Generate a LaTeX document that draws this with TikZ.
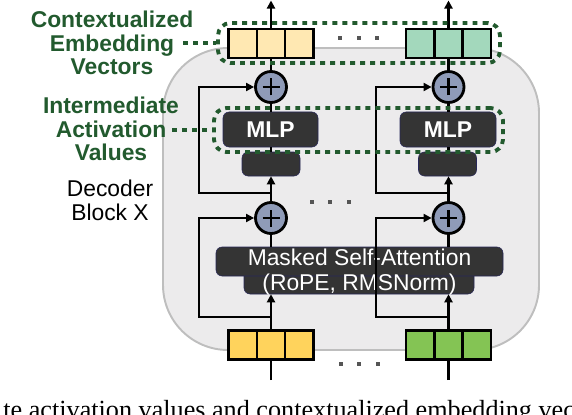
\documentclass[tikz,border=0pt]{standalone}
\usepackage{fontspec}
\setmainfont{Liberation Serif}
\setsansfont{Liberation Sans}
\usetikzlibrary{arrows.meta,positioning}

\definecolor{ctxgreen}{RGB}{34,90,46}
\definecolor{blockgray}{RGB}{236,235,236}
\definecolor{blockedge}{RGB}{190,190,190}
\definecolor{opdark}{RGB}{52,52,52}
\definecolor{opedge}{RGB}{40,40,90}
\definecolor{plusblue}{RGB}{143,155,184}
\definecolor{tokyellow}{RGB}{255,211,92}
\definecolor{tokgreen}{RGB}{132,196,84}
\definecolor{embcream}{RGB}{255,232,178}
\definecolor{embmint}{RGB}{163,216,188}
\definecolor{dotgray}{RGB}{85,85,85}

\tikzset{
  cell/.style={draw, line width=1.5pt, minimum width=0.567cm, minimum height=0.58cm, inner sep=0pt, outer sep=0pt},
  addop/.style={circle, draw, line width=1.6pt, fill=plusblue, minimum size=0.62cm, inner sep=0pt,
    path picture={
      \draw[line width=1.3pt] ([xshift=-0.17cm]path picture bounding box.center) -- ([xshift=0.17cm]path picture bounding box.center);
      \draw[line width=1.3pt] ([yshift=-0.17cm]path picture bounding box.center) -- ([yshift=0.17cm]path picture bounding box.center);}},
  opbox/.style={fill=opdark, draw=opedge, line width=0.3pt, rounded corners=0.12cm, text=white, inner sep=0pt,
    font=\sffamily\bfseries\fontsize{13}{13.4}\selectfont},
  grouping/.style={draw=ctxgreen, line width=2.2pt, dash pattern=on 2.8pt off 2.9pt, rounded corners=0.25cm, inner sep=0pt},
  glabel/.style={text=ctxgreen, align=center, font=\sffamily\bfseries\fontsize{13}{13.4}\selectfont},
}

\begin{document}
\begin{tikzpicture}[>={Triangle[length=4.6pt,width=4.6pt]}, line width=1.6pt]
  \useasboundingbox (0,0) rectangle (11.44,8.28);
  \clip (0,0) rectangle (11.44,8.28);

  % decoder block
  \node[draw=blockedge, fill=blockgray, line width=1.1pt, rounded corners=1.3cm,
        minimum width=7.52cm, minimum height=6.04cm, inner sep=0pt] (block) at (7.02,4.30) {};

  % input tokens
  \node[cell, fill=tokyellow] (inL) at (5.42,1.38) {};
  \node[cell, fill=tokyellow, left=0pt of inL] (inL1) {};
  \node[cell, fill=tokyellow, right=0pt of inL] (inL3) {};
  \node[cell, fill=tokgreen] (inR) at (8.97,1.38) {};
  \node[cell, fill=tokgreen, left=0pt of inR] (inR1) {};
  \node[cell, fill=tokgreen, right=0pt of inR] (inR3) {};

  % attention
  \node[opbox, minimum width=4.60cm, minimum height=0.50cm] (attnBot) at (7.18,2.65) {};
  \node[opbox, minimum width=5.74cm, minimum height=0.58cm] (attnTop) at (7.19,3.05) {};
  \node[text=white, align=center, inner sep=0pt, font=\sffamily\fontsize{13}{14.2}\selectfont]
       (attnText) at (7.19,2.83) {Masked Self-Attention\\(RoPE, RMSNorm)};

  % left column
  \node[addop] (addL1) at (5.42,3.92) {};
  \node[opbox, minimum width=1.16cm, minimum height=0.48cm] (normL) at (5.42,5.00) {};
  \node[opbox, minimum width=1.90cm, minimum height=0.70cm] (mlpL) at (5.41,5.69) {MLP};
  \node[addop] (addL2) at (5.42,6.54) {};
  \node[cell, fill=embcream] (outL) at (5.42,7.41) {};
  \node[cell, fill=embcream, left=0pt of outL] (outL1) {};
  \node[cell, fill=embcream, right=0pt of outL] (outL3) {};

  % right column
  \node[addop] (addR1) at (8.97,3.92) {};
  \node[opbox, minimum width=1.16cm, minimum height=0.48cm] (normR) at (8.95,5.00) {};
  \node[opbox, minimum width=1.92cm, minimum height=0.70cm] (mlpR) at (8.96,5.69) {MLP};
  \node[addop] (addR2) at (8.97,6.54) {};
  \node[cell, fill=embmint] (outR) at (8.97,7.41) {};
  \node[cell, fill=embmint, left=0pt of outR] (outR1) {};
  \node[cell, fill=embmint, right=0pt of outR] (outR3) {};

  \coordinate (tokL) at (5.42,0.68);
  \coordinate (tokR) at (8.97,0.68);
  \coordinate (splitL1) at (5.42,1.94);
  \coordinate (splitR1) at (8.97,1.94);
  \coordinate (splitL2) at (5.42,4.42);
  \coordinate (splitR2) at (8.97,4.42);
  \coordinate (topL) at (5.42,8.27);
  \coordinate (topR) at (8.97,8.27);

  % data flow
  \draw (tokL) -- (inL.south);
  \draw (tokR) -- (inR.south);
  \draw[->] (inL.north) -- (inL.north |- attnBot.south);
  \draw[->] (inR.north) -- (inR.north |- attnBot.south);
  \draw[->] (splitL1) -- ++(-1.44,0) |- (addL1.west);
  \draw[->] (splitR1) -- ++(-1.45,0) |- (addR1.west);
  \draw (attnTop.north -| addL1) -- (addL1.south);
  \draw (attnTop.north -| addR1) -- (addR1.south);
  \draw[->] (addL1.north) -- (normL.south -| addL1);
  \draw[->] (addR1.north) -- (normR.south -| addR1);
  \draw[->] (splitL2) -- ++(-1.44,0) |- (addL2.west);
  \draw[->] (splitR2) -- ++(-1.45,0) |- (addR2.west);
  \draw (normL.north -| addL2) -- (mlpL.south -| addL2);
  \draw (normR.north -| addR2) -- (mlpR.south -| addR2);
  \draw (mlpL.north -| addL2) -- (addL2.south);
  \draw (mlpR.north -| addR2) -- (addR2.south);
  \draw (addL2.north) -- (outL.south);
  \draw (addR2.north) -- (outR.south);
  \draw[->] (outL.north) -- (topL);
  \draw[->] (outR.north) -- (topR);

  % ellipses
  \foreach \x in {6.80,7.18,7.54} \fill[dotgray] (\x,7.52) ++(-0.04,-0.04) rectangle ++(0.08,0.08);
  \foreach \x in {6.24,6.60,6.98} \fill[dotgray] (\x,4.24) ++(-0.04,-0.04) rectangle ++(0.08,0.08);
  \foreach \x in {6.82,7.18,7.56} \fill[dotgray] (\x,1.00) ++(-0.04,-0.04) rectangle ++(0.08,0.08);

  % highlighted groups
  \node[grouping, minimum width=5.64cm, minimum height=0.80cm] (ctxBox) at (7.18,7.42) {};
  \node[grouping, minimum width=5.78cm, minimum height=0.88cm] (actBox) at (7.17,5.68) {};
  \coordinate (ctxLead) at (3.66,7.42);
  \coordinate (actLead) at (3.44,5.68);
  \draw[grouping] (ctxLead) -- (ctxBox.west);
  \draw[grouping] (actLead) -- (actBox.west);

  \node[glabel] (ctxLabel) at (2.24,7.42) {Contextualized\\Embedding\\Vectors};
  \node[glabel] (actLabel) at (2.22,5.70) {Intermediate\\Activation\\Values};
  \node[align=center, font=\sffamily\fontsize{13}{13.7}\selectfont] (blockLabel) at (2.20,4.28) {Decoder\\Block X};

  \node[anchor=base west, inner sep=0pt, font=\fontsize{14.9}{16}\selectfont] (caption) at (0.04,-0.09)
       {te activation values and contextualized embedding vec};
\end{tikzpicture}
\end{document}
